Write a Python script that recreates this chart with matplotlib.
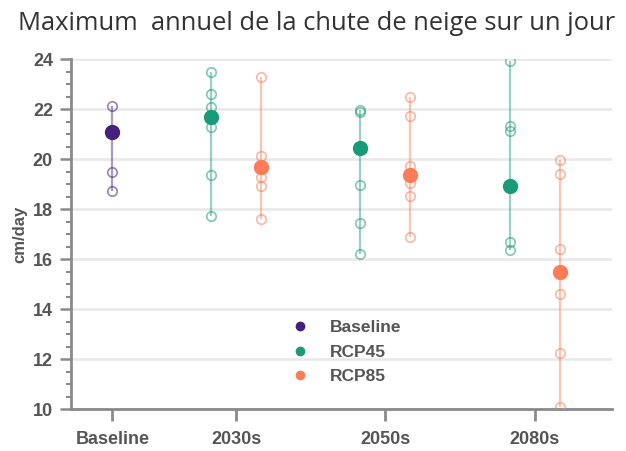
import numpy as np
import matplotlib
matplotlib.use('Agg')
import matplotlib.pyplot as plt
from matplotlib.ticker import MultipleLocator
from matplotlib.lines import Line2D

# ── 데이터 ────────────────────────────────────────────────
periods = ['Baseline', '2030s', '2050s', '2080s']
scenarios = ['Baseline', 'RCP45', 'RCP85']

# 모델별 값 (속이 빈 원)
base_models = [22.13, 19.47, 18.73]
rcp45_2030 = [23.47, 22.6, 22.1, 21.27, 19.36, 17.73]
rcp85_2030 = [23.27, 20.13, 19.27, 18.93, 17.6]
rcp45_2050 = [21.96, 21.9, 18.96, 17.44, 16.21]
rcp85_2050 = [22.49, 21.71, 19.73, 19.04, 18.53, 16.87]
rcp45_2080 = [23.93, 21.33, 21.13, 16.69, 16.36]
rcp85_2080 = [19.96, 19.4, 16.4, 14.6, 12.23, 10.09]

# 앙상블 평균 (속이 찬 원)
base_mean = 21.07
rcp45_mean = [21.67, 20.44, 18.91]
rcp85_mean = [19.7, 19.37, 15.47]

COLORS = {'Baseline': '#45207d', 'RCP45': '#1b9a7a', 'RCP85': '#fb7c56'}
GRAY = '#555555'
AXC = '#8a8a8a'
FONT = 'Liberation Sans'

# ── 위치 ──────────────────────────────────────────────────
xticks_pos = [0.17, 1, 2, 3]
dodge = 0.168

groups = [
    ('Baseline', xticks_pos[0], base_models, base_mean),
    ('RCP45', xticks_pos[1] - dodge, rcp45_2030, rcp45_mean[0]),
    ('RCP85', xticks_pos[1] + dodge, rcp85_2030, rcp85_mean[0]),
    ('RCP45', xticks_pos[2] - dodge, rcp45_2050, rcp45_mean[1]),
    ('RCP85', xticks_pos[2] + dodge, rcp85_2050, rcp85_mean[1]),
    ('RCP45', xticks_pos[3] - dodge, rcp45_2080, rcp45_mean[2]),
    ('RCP85', xticks_pos[3] + dodge, rcp85_2080, rcp85_mean[2]),
]

fig = plt.figure(figsize=(6.26, 4.51), dpi=100)
ax = fig.add_axes([0.1134, 0.0931, 0.8646, 0.7760])

for scen, x, vals, mean in groups:
    c = COLORS[scen]
    lo, hi = min(vals + [mean]), max(vals + [mean])
    ax.plot([x, x], [lo, hi], color=c, alpha=0.45, lw=1.6, zorder=2,
            solid_capstyle='butt')
    ax.plot([x] * len(vals), vals, 'o', mfc='none', mec=c, mew=1.2,
            ms=6.8, alpha=0.55, zorder=3)
    ax.plot([x], [mean], 'o', color=c, ms=10, zorder=4)

ax.set_xlim(-0.107, 3.52)
ax.set_ylim(10, 24)
ax.set_xticks(xticks_pos)
ax.set_xticklabels(periods)
ax.yaxis.set_major_locator(MultipleLocator(2))
ax.yaxis.set_minor_locator(MultipleLocator(0.5))
ax.grid(axis='y', color='#e8e8e8', lw=1.8, zorder=0)
ax.set_axisbelow(True)

for s in ['top', 'right']:
    ax.spines[s].set_visible(False)
for s in ['left', 'bottom']:
    ax.spines[s].set_color(AXC)
    ax.spines[s].set_linewidth(2)

ax.tick_params(axis='y', which='major', length=8, width=1.8, color=AXC,
               labelsize=13, labelcolor=GRAY, pad=5)
ax.tick_params(axis='y', which='minor', length=3.5, width=1.5, color=AXC)
ax.tick_params(axis='x', which='major', length=8.6, width=2, color=AXC,
               labelsize=13, labelcolor=GRAY, pad=7)
for lab in ax.get_xticklabels() + ax.get_yticklabels():
    lab.set_fontweight('bold')
    lab.set_family(FONT)

ax.set_ylabel('cm/day', fontsize=12, fontweight='bold', color=GRAY,
              family=FONT, labelpad=4)

handles = [Line2D([0], [0], marker='o', ls='none', color=COLORS[s], ms=6,
                  label=s) for s in scenarios]
leg = ax.legend(handles=handles, loc='center left', bbox_to_anchor=(0.465, 0.2195),
                bbox_transform=fig.transFigure, frameon=False,
                borderpad=0, borderaxespad=0, handlelength=1.0,
                handletextpad=1.24, labelspacing=0.53,
                prop={'family': FONT, 'weight': 'bold', 'size': 12.5})
for t in leg.get_texts():
    t.set_color(GRAY)

fig.text(0.029, 0.9335, 'Maximum  annuel de la chute de neige sur un jour',
         fontsize=18.4, color='#333333', family='Open Sans', ha='left', va='baseline')

fig.savefig('out.png', dpi=100)
